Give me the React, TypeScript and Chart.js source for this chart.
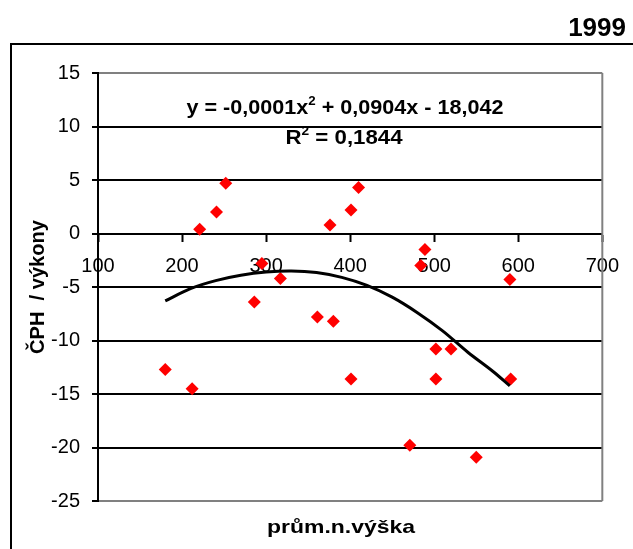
import React, { useEffect, useRef } from 'react';
import { Chart, registerables } from 'chart.js';

Chart.register(...registerables);

// Scatter data (průměrná nadmořská výška vs. ČPH / výkony)
const X_VALUES = [221, 241, 252, 376, 401, 410, 489, 484, 295, 317, 590, 180, 212, 286, 361, 380, 401, 471, 502, 520, 502, 550, 591];
const Y_VALUES = [0.4, 2.0, 4.7, 0.8, 2.2, 4.3, -1.5, -3.0, -2.8, -4.2, -4.3, -12.7, -14.5, -6.4, -7.8, -8.2, -13.6, -19.8, -10.8, -10.8, -13.6, -20.9, -13.6];

// Polynomial trendline, points
const TREND_X = [180, 210, 240, 270, 300, 330, 360, 390, 420, 450, 480, 510, 540, 570, 590];
const TREND_Y = [-6.3, -5.15, -4.4, -3.9, -3.6, -3.5, -3.65, -4.1, -4.85, -5.95, -7.4, -9.1, -11.1, -12.9, -14.25];

// Axis ticks
const X_TICKS = [100, 200, 300, 400, 500, 600, 700];
const Y_TICKS = [-25, -20, -15, -10, -5, 0, 5, 10, 15];

// Texts
const TITLE = '1999';
const X_TITLE = 'prům.n.výška';
const Y_TITLE = 'ČPH  / výkony';
const EQ_PARTS = [
  { t: 'y = -0,0001x', sup: false },
  { t: '2', sup: true },
  { t: ' + 0,0904x - 18,042', sup: false },
];
const R2_PARTS = [
  { t: 'R', sup: false },
  { t: '2', sup: true },
  { t: ' = 0,1844', sup: false },
];

const FONT = 'Arial, "Liberation Sans", sans-serif';

function drawRich(
  ctx: CanvasRenderingContext2D,
  parts: { t: string; sup: boolean }[],
  cx: number,
  baseline: number,
  targetW: number,
  size: number
) {
  const supSize = Math.round(size * 0.6);
  const widths = parts.map((p) => {
    ctx.font = `bold ${p.sup ? supSize : size}px ${FONT}`;
    return ctx.measureText(p.t).width;
  });
  const total = widths.reduce((a, b) => a + b, 0);
  const s = targetW / total;
  ctx.save();
  ctx.translate(cx, baseline);
  ctx.scale(s, 1);
  ctx.textAlign = 'left';
  ctx.textBaseline = 'alphabetic';
  ctx.fillStyle = '#000';
  let x = -total / 2;
  parts.forEach((p, i) => {
    ctx.font = `bold ${p.sup ? supSize : size}px ${FONT}`;
    ctx.fillText(p.t, x, p.sup ? -size * 0.42 : 0);
    x += widths[i];
  });
  ctx.restore();
}

function drawFitted(
  ctx: CanvasRenderingContext2D,
  text: string,
  cx: number,
  baseline: number,
  targetW: number,
  size: number,
  rotate = false
) {
  ctx.save();
  ctx.font = `bold ${size}px ${FONT}`;
  const w = ctx.measureText(text).width;
  ctx.translate(cx, baseline);
  if (rotate) ctx.rotate(-Math.PI / 2);
  ctx.scale(targetW / w, 1);
  ctx.textAlign = 'center';
  ctx.textBaseline = 'alphabetic';
  ctx.fillStyle = '#000';
  ctx.fillText(text, 0, 0);
  ctx.restore();
}

const decor = {
  id: 'decor',
  beforeDraw(chart: any) {
    const ctx = chart.ctx;
    ctx.save();
    ctx.fillStyle = '#fff';
    ctx.fillRect(0, 0, chart.width, chart.height);
    ctx.restore();
  },
  beforeDatasetsDraw(chart: any) {
    const { ctx, chartArea: a } = chart;
    ctx.save();
    ctx.strokeStyle = '#808080';
    ctx.lineWidth = 2;
    ctx.beginPath();
    ctx.moveTo(a.right, a.top);
    ctx.lineTo(a.right, a.bottom);
    ctx.stroke();
    ctx.restore();
  },
  afterDraw(chart: any) {
    const { ctx, chartArea: a } = chart;
    // outer frame (top and left)
    ctx.save();
    ctx.strokeStyle = '#000';
    ctx.lineWidth = 2;
    ctx.beginPath();
    ctx.moveTo(chart.width, 44);
    ctx.lineTo(11, 44);
    ctx.lineTo(11, chart.height);
    ctx.stroke();
    ctx.restore();

    // title
    ctx.save();
    ctx.font = `bold 26px ${FONT}`;
    ctx.textAlign = 'right';
    ctx.textBaseline = 'alphabetic';
    ctx.fillStyle = '#000';
    ctx.fillText(TITLE, 626, 36);
    ctx.restore();

    // trendline equation
    drawRich(ctx, EQ_PARTS, 345, 114, 317, 21);
    drawRich(ctx, R2_PARTS, 344, 144, 117, 21);

    // axis titles
    drawFitted(ctx, X_TITLE, 341, 533, 148, 19);
    drawFitted(ctx, Y_TITLE, 44, (a.top + a.bottom) / 2, 134, 20, true);
  },
};

export default function App() {
  const ref = useRef<HTMLCanvasElement | null>(null);

  useEffect(() => {
    if (!ref.current) return;
    const points = X_VALUES.map((x, i) => ({ x, y: Y_VALUES[i] }));
    const trend = TREND_X.map((x, i) => ({ x, y: TREND_Y[i] }));
    const chart = new Chart(ref.current, {
      type: 'scatter',
      data: {
        datasets: [
          {
            label: 'trend',
            data: trend,
            showLine: true,
            borderColor: '#000',
            borderWidth: 3,
            pointRadius: 0,
            tension: 0.35,
            fill: false,
          },
          {
            label: 'data',
            data: points,
            pointStyle: 'rectRot',
            pointRadius: 6.5,
            pointBackgroundColor: '#ff0000',
            pointBorderColor: '#ff0000',
            pointBorderWidth: 0,
            showLine: false,
          },
        ],
      },
      options: {
        animation: false,
        responsive: false,
        devicePixelRatio: 1,
        layout: { padding: { left: 10, right: 23, top: 73, bottom: 48 } },
        plugins: {
          legend: { display: false },
          tooltip: { enabled: false },
        },
        scales: {
          x: {
            type: 'linear',
            position: { y: 0 } as any,
            min: X_TICKS[0],
            max: X_TICKS[X_TICKS.length - 1],
            afterBuildTicks: (scale: any) => {
              scale.ticks = X_TICKS.map((v) => ({ value: v }));
            },
            ticks: {
              autoSkip: false,
              maxRotation: 0,
              padding: 14,
              color: '#000',
              font: { family: FONT, size: 20 },
            },
            grid: {
              drawOnChartArea: false,
              drawTicks: true,
              tickLength: 7,
              tickWidth: 2,
              tickColor: '#000',
            },
            border: { display: true, color: '#000', width: 2 },
          },
          y: {
            type: 'linear',
            min: Y_TICKS[0],
            max: Y_TICKS[Y_TICKS.length - 1],
            afterBuildTicks: (scale: any) => {
              scale.ticks = Y_TICKS.map((v) => ({ value: v }));
            },
            afterFit: (scale: any) => {
              scale.width = 88;
            },
            ticks: {
              padding: 12,
              color: '#000',
              font: { family: FONT, size: 20 },
            },
            grid: {
              drawOnChartArea: true,
              drawTicks: true,
              tickLength: 6,
              tickWidth: 2,
              tickColor: '#000',
              lineWidth: 2,
              color: (c: any) =>
                c.tick && (c.tick.value === Y_TICKS[0] || c.tick.value === Y_TICKS[Y_TICKS.length - 1])
                  ? '#808080'
                  : '#000',
            },
            border: { display: true, color: '#000', width: 2 },
          },
        },
      },
      plugins: [decor],
    });
    return () => chart.destroy();
  }, []);

  return (
    <div style={{ position: 'absolute', left: 0, top: 0, width: 633, height: 549 }}>
      <canvas ref={ref} width={633} height={549} style={{ display: 'block' }} />
    </div>
  );
}
